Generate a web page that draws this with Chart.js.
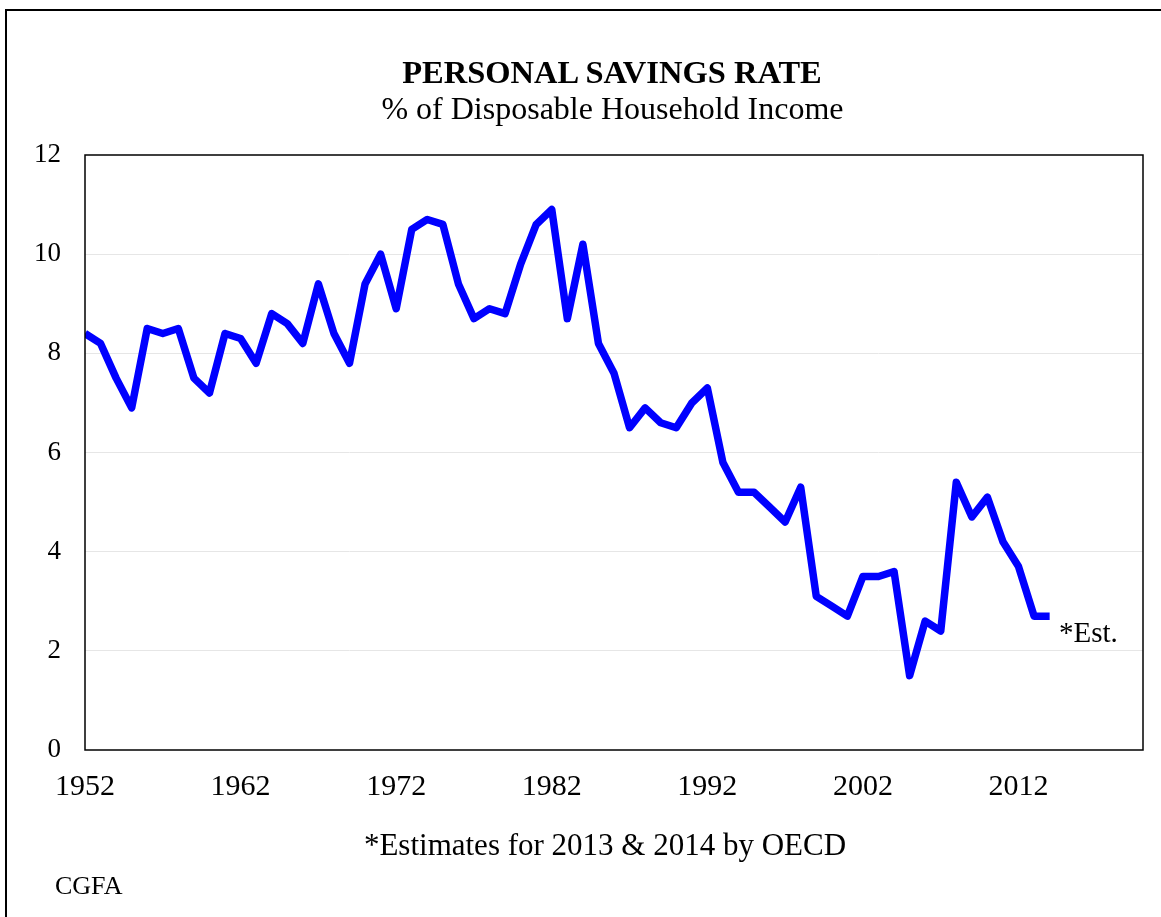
<!DOCTYPE html>
<html>
<head>
<meta charset="utf-8">
<script src="https://cdn.jsdelivr.net/npm/chart.js@4.4.1/dist/chart.umd.min.js"></script>
<style>
  html, body { margin: 0; padding: 0; background: #fff; }
  #wrap { position: relative; width: 1161px; height: 917px; overflow: hidden; font-family: "Liberation Serif", "Times New Roman", serif; color: #000; }
  #frame { position: absolute; left: 5px; top: 9px; width: 1170px; height: 930px; border-left: 2px solid #000; border-top: 2px solid #000; }
  #savingsChart { position: absolute; left: 0; top: 0; }
  .txt { position: absolute; white-space: nowrap; line-height: 1; }
  #title { left: 0; width: 1224px; text-align: center; top: 56px; font-size: 32.5px; font-weight: bold; }
  #subtitle { left: 0; width: 1225px; text-align: center; top: 92px; font-size: 32px; }
  #est { left: 1059px; top: 618px; font-size: 29px; }
  #note { left: 0; width: 1210px; text-align: center; top: 829px; font-size: 31px; }
  #source { left: 55px; top: 873px; font-size: 26px; }
</style>
</head>
<body>
<div id="wrap">
  <div id="frame"></div>
  <canvas id="savingsChart" width="1161" height="917"></canvas>
  <div class="txt" id="title">PERSONAL SAVINGS RATE</div>
  <div class="txt" id="subtitle">% of Disposable Household Income</div>
  <div class="txt" id="est">*Est.</div>
  <div class="txt" id="note">*Estimates for 2013 &amp; 2014 by OECD</div>
  <div class="txt" id="source">CGFA</div>
</div>
<script>
const years = [
  1952, 1953, 1954, 1955, 1956, 1957, 1958, 1959, 1960, 1961,
  1962, 1963, 1964, 1965, 1966, 1967, 1968, 1969, 1970, 1971,
  1972, 1973, 1974, 1975, 1976, 1977, 1978, 1979, 1980, 1981,
  1982, 1983, 1984, 1985, 1986, 1987, 1988, 1989, 1990, 1991,
  1992, 1993, 1994, 1995, 1996, 1997, 1998, 1999, 2000, 2001,
  2002, 2003, 2004, 2005, 2006, 2007, 2008, 2009, 2010, 2011,
  2012, 2013, 2014
];
const savingsRate = [
  8.4, 8.2, 7.5, 6.9, 8.5, 8.4, 8.5, 7.5, 7.2, 8.4,
  8.3, 7.8, 8.8, 8.6, 8.2, 9.4, 8.4, 7.8, 9.4, 10.0,
  8.9, 10.5, 10.7, 10.6, 9.4, 8.7, 8.9, 8.8, 9.8, 10.6,
  10.9, 8.7, 10.2, 8.2, 7.6, 6.5, 6.9, 6.6, 6.5, 7.0,
  7.3, 5.8, 5.2, 5.2, 4.9, 4.6, 5.3, 3.1, 2.9, 2.7,
  3.5, 3.5, 3.6, 1.5, 2.6, 2.4, 5.4, 4.7, 5.1, 4.2,
  3.7, 2.7, 2.7
];
const xTickYears = [1952, 1962, 1972, 1982, 1992, 2002, 2012];
const yTickValues = [0, 2, 4, 6, 8, 10, 12];

const serif = "'Liberation Serif', 'Times New Roman', serif";

// black box round the plot area
const plotBorder = {
  id: "plotBorder",
  afterDraw(chart) {
    const a = chart.chartArea;
    const ctx = chart.ctx;
    ctx.save();
    ctx.strokeStyle = "#000";
    ctx.lineWidth = 1.5;
    ctx.strokeRect(a.left, a.top, a.right - a.left, a.bottom - a.top);
    ctx.restore();
  },
};

const ctx = document.getElementById("savingsChart").getContext("2d");
const savingsChart = new Chart(ctx, {
  type: "line",
  data: {
    datasets: [
      {
        label: "Personal savings rate",
        data: years.map((y, i) => ({ x: y, y: savingsRate[i] })),
        borderColor: "#0000ff",
        borderWidth: 7.5,
        borderJoinStyle: "round",
        borderCapStyle: "butt",
        pointRadius: 0,
        tension: 0,
        fill: false,
      },
    ],
  },
  options: {
    responsive: false,
    animation: false,
    layout: {
      padding: { top: 155, right: 18, bottom: 107, left: 0 },
    },
    scales: {
      x: {
        type: "linear",
        min: 1952,
        max: 2020,
        afterBuildTicks: (scale) => {
          scale.ticks = xTickYears.map((v) => ({ value: v }));
        },
        afterFit: (scale) => {
          scale.height = 60;
        },
        grid: { display: false, drawTicks: false },
        border: { display: false },
        ticks: {
          padding: 19,
          color: "#000",
          font: { family: serif, size: 30 },
          maxRotation: 0,
          callback: (v) => String(v),
        },
      },
      y: {
        min: 0,
        max: 12,
        afterBuildTicks: (scale) => {
          scale.ticks = yTickValues.map((v) => ({ value: v }));
        },
        afterFit: (scale) => {
          scale.width = 85;
        },
        grid: {
          drawTicks: false,
          color: (c) => (c.tick && (c.tick.value === 0 || c.tick.value === 12) ? "rgba(0,0,0,0)" : "#e6e6e6"),
          lineWidth: 1,
        },
        border: { display: false },
        ticks: {
          padding: 24,
          color: "#000",
          font: { family: serif, size: 27 },
        },
      },
    },
    plugins: {
      legend: { display: false },
      tooltip: { enabled: false },
    },
  },
  plugins: [plotBorder],
});
</script>
</body>
</html>
